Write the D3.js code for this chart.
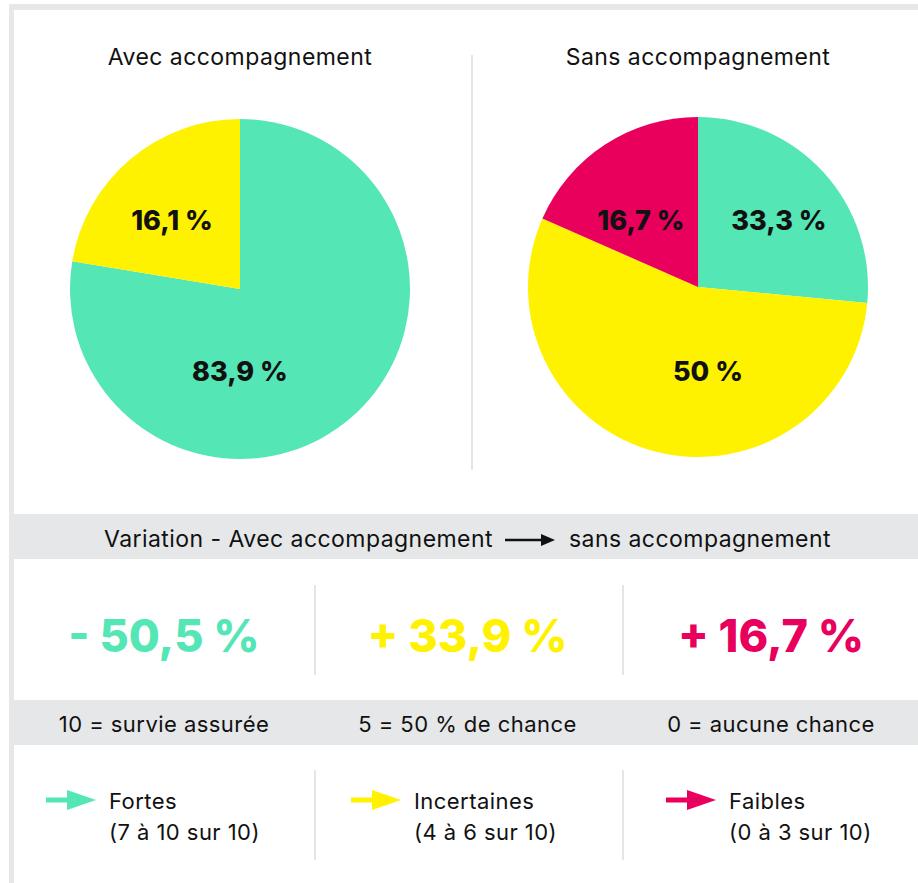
<!DOCTYPE html>
<html>
<head>
<meta charset="utf-8">
<script src="https://cdn.jsdelivr.net/npm/d3@7"></script>
<style>
  body { margin: 0; background: #fff; }
  svg text { font-family: Inter, "Open Sans", sans-serif; fill: #111; }
  .reg { letter-spacing: 0.45px; }
</style>
</head>
<body>
<div id="chart"></div>
<script>
// pie titles and slices (shares as drawn, labels as printed)
const pieTitles = ["Avec accompagnement", "Sans accompagnement"]
const categories = ["Fortes", "Incertaines", "Faibles"]
const avecShares = [77.6, 22.4, 0]
const sansShares = [26.5, 55.1, 18.4]
const avecLabels = ["83,9 %", "16,1 %", ""]
const sansLabels = ["33,3 %", "50 %", "16,7 %"]
const variations = ["- 50,5 %", "+ 33,9 %", "+ 16,7 %"]
const scaleNotes = ["10 = survie assurée", "5 = 50 % de chance", "0 = aucune chance"]
const legendSub = ["(7 à 10 sur 10)", "(4 à 6 sur 10)", "(0 à 3 sur 10)"]

const W = 918, H = 883
const grey = "#e6e7e9"
const color = d3.scaleOrdinal().domain(categories).range(["#55e6b6", "#fff200", "#e8005c"])

const svg = d3.select("#chart").append("svg")
    .attr("width", W)
    .attr("height", H)

// frame
svg.append("rect").attr("x", 9).attr("y", 4).attr("width", W - 9).attr("height", 6).attr("fill", grey)
svg.append("rect").attr("x", 9).attr("y", 4).attr("width", 5).attr("height", H - 4).attr("fill", grey)

// columns for the three bottom sections
let col = d3.scaleBand().domain(categories).range([7, 931])
let mid = d3.scalePoint().domain(categories).range([164, 771])

// pies
let pie = d3.pie().sort(null).value(d => d.v)
let arc = d3.arc().innerRadius(0).outerRadius(170)

let pieX = d3.scalePoint().domain(pieTitles).range([240, 698])
let pieY = {"Avec accompagnement": 289, "Sans accompagnement": 287}
let pieData = [avecShares, sansShares]
let pieLabels = [avecLabels, sansLabels]
// label offsets from the pie centre, per slice
let labelPos = [
    [[0, 82], [-68, -69], [0, 0]],
    [[81, -67], [10, 84], [-57, -67]]
]

pieTitles.forEach((t, i) => {
    let g = svg.append("g")
        .attr("transform", "translate(" + pieX(t) + "," + pieY[t] + ")")
    let rows = categories.map((c, j) => ({c: c, v: pieData[i][j], label: pieLabels[i][j], pos: labelPos[i][j]}))
    let arcs = pie(rows)
    g.selectAll("path")
        .data(arcs)
        .enter()
        .append("path")
            .attr("d", arc)
            .attr("fill", d => color(d.data.c))
    g.selectAll("text.val")
        .data(arcs.filter(d => d.data.v > 0))
        .enter()
        .append("text")
            .attr("class", "val")
            .attr("x", d => d.data.pos[0])
            .attr("y", d => d.data.pos[1])
            .attr("text-anchor", "middle")
            .attr("dy", "0.36em")
            .style("font-size", "27px")
            .style("font-weight", 800)
            .text(d => d.data.label)

    svg.append("text")
        .attr("class", "reg")
        .attr("x", pieX(t))
        .attr("y", 65)
        .attr("text-anchor", "middle")
        .style("font-size", "23px")
        .text(t)
})

// divider between pies
svg.append("line").attr("x1", 472).attr("x2", 472).attr("y1", 55).attr("y2", 470)
    .attr("stroke", "#e4e5e7").attr("stroke-width", 2)

// variation bar
svg.append("rect").attr("x", 14).attr("y", 514).attr("width", W - 14).attr("height", 45).attr("fill", grey)
svg.append("text").attr("class", "reg").attr("x", 493).attr("y", 547).attr("text-anchor", "end")
    .style("font-size", "23px").text("Variation - Avec accompagnement")
svg.append("line").attr("x1", 505).attr("x2", 545).attr("y1", 540).attr("y2", 540)
    .attr("stroke", "#111").attr("stroke-width", 2.5)
svg.append("path").attr("d", "M541,534L555,540L541,546Z").attr("fill", "#111")
svg.append("text").attr("class", "reg").attr("x", 569).attr("y", 547)
    .style("font-size", "23px").text("sans accompagnement")

// variation numbers
svg.selectAll("text.var")
    .data(categories)
    .enter()
    .append("text")
        .attr("class", "var")
        .attr("x", d => mid(d))
        .attr("y", 652)
        .attr("text-anchor", "middle")
        .style("font-size", "45px")
        .style("font-weight", 800)
        .style("fill", d => color(d))
        .text((d, i) => variations[i])

// scale notes bar
svg.append("rect").attr("x", 14).attr("y", 700).attr("width", W - 14).attr("height", 45).attr("fill", grey)
svg.selectAll("text.note")
    .data(categories)
    .enter()
    .append("text")
        .attr("class", "note reg")
        .attr("x", d => mid(d))
        .attr("y", 732)
        .attr("text-anchor", "middle")
        .style("font-size", "22px")
        .text((d, i) => scaleNotes[i])

// dividers in the lower sections
let divX = [col(categories[1]), col(categories[2])]
divX.forEach(x => {
    svg.append("line").attr("x1", x).attr("x2", x).attr("y1", 585).attr("y2", 675)
        .attr("stroke", "#e4e5e7").attr("stroke-width", 2)
    svg.append("line").attr("x1", x).attr("x2", x).attr("y1", 770).attr("y2", 860)
        .attr("stroke", "#e4e5e7").attr("stroke-width", 2)
})

// legend
let legX = d3.scaleOrdinal().domain(categories).range([46, 351, 666])
let leg = svg.selectAll("g.leg")
    .data(categories)
    .enter()
    .append("g")
        .attr("class", "leg")
        .attr("transform", d => "translate(" + legX(d) + ",800)")
leg.append("rect").attr("x", 0).attr("y", -2.5).attr("width", 24).attr("height", 5)
    .attr("fill", d => color(d))
leg.append("path").attr("d", "M21,-10L50,0L21,10Z").attr("fill", d => color(d))
leg.append("text").attr("class", "reg").attr("x", 63).attr("y", 9).style("font-size", "22px").text(d => d)
leg.append("text").attr("class", "reg").attr("x", 63).attr("y", 40).style("font-size", "22px").text((d, i) => legendSub[i])
</script>
</body>
</html>
